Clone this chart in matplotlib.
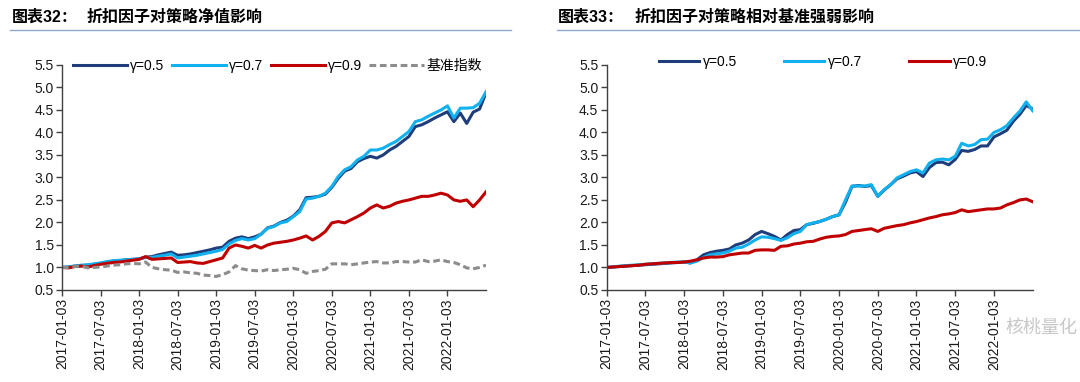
import matplotlib
matplotlib.use("Agg")
import matplotlib.pyplot as plt
import numpy as np

plt.rcParams['font.family'] = ['Liberation Sans', 'Noto Sans CJK SC', 'DejaVu Sans']

# monthly readings, 2017-01 .. 2022-07
tick_labels = ['2017-01-03', '2017-07-03', '2018-01-03', '2018-07-03', '2019-01-03',
               '2019-07-03', '2020-01-03', '2020-07-03', '2021-01-03', '2021-07-03',
               '2022-01-03']

# chart 32: net value
nav_g05 = [1.00, 1.01, 1.03, 1.04, 1.05, 1.07, 1.09, 1.12, 1.14, 1.15, 1.17, 1.18, 1.19, 1.23, 1.24, 1.28,
           1.31, 1.34, 1.27, 1.28, 1.30, 1.33, 1.36, 1.39, 1.43, 1.45, 1.58, 1.65, 1.68, 1.64, 1.68, 1.74,
           1.88, 1.92, 2.00, 2.05, 2.14, 2.28, 2.55, 2.56, 2.58, 2.63, 2.78, 2.98, 3.14, 3.20, 3.35, 3.42,
           3.47, 3.43, 3.50, 3.61, 3.69, 3.80, 3.91, 4.13, 4.17, 4.24, 4.32, 4.39, 4.46, 4.24, 4.43, 4.20,
           4.45, 4.52, 4.88]
nav_g07 = [1.00, 1.01, 1.03, 1.05, 1.06, 1.08, 1.10, 1.13, 1.15, 1.16, 1.17, 1.18, 1.19, 1.22, 1.22, 1.25,
           1.27, 1.30, 1.21, 1.23, 1.25, 1.27, 1.30, 1.33, 1.36, 1.40, 1.52, 1.60, 1.64, 1.61, 1.64, 1.74,
           1.87, 1.91, 1.99, 2.02, 2.13, 2.24, 2.52, 2.54, 2.58, 2.65, 2.80, 3.02, 3.17, 3.24, 3.39, 3.47,
           3.61, 3.61, 3.65, 3.73, 3.80, 3.91, 4.02, 4.24, 4.28, 4.36, 4.43, 4.50, 4.59, 4.32, 4.54, 4.54,
           4.55, 4.65, 4.90]
nav_g09 = [1.00, 0.99, 1.02, 1.03, 1.01, 1.04, 1.07, 1.09, 1.11, 1.12, 1.14, 1.16, 1.18, 1.24, 1.18, 1.19,
           1.20, 1.21, 1.11, 1.12, 1.13, 1.10, 1.09, 1.13, 1.17, 1.21, 1.43, 1.50, 1.47, 1.43, 1.49, 1.43,
           1.50, 1.54, 1.56, 1.58, 1.61, 1.65, 1.70, 1.61, 1.69, 1.80, 1.99, 2.02, 1.99, 2.06, 2.13, 2.21,
           2.32, 2.39, 2.32, 2.36, 2.43, 2.47, 2.50, 2.54, 2.58, 2.58, 2.61, 2.65, 2.61, 2.50, 2.47, 2.50,
           2.35, 2.50, 2.68]
bench = [1.00, 1.00, 1.02, 1.03, 0.99, 1.00, 1.01, 1.03, 1.05, 1.06, 1.08, 1.09, 1.08, 1.12, 1.00, 0.97,
         0.95, 0.94, 0.89, 0.90, 0.88, 0.87, 0.83, 0.82, 0.80, 0.84, 0.90, 1.04, 0.97, 0.94, 0.93, 0.92,
         0.95, 0.93, 0.95, 0.96, 0.98, 0.95, 0.87, 0.91, 0.93, 0.96, 1.08, 1.08, 1.08, 1.06, 1.08, 1.10,
         1.12, 1.13, 1.10, 1.10, 1.13, 1.13, 1.12, 1.12, 1.17, 1.13, 1.14, 1.17, 1.13, 1.11, 1.06, 0.99,
         0.97, 1.00, 1.05]

# chart 33: relative to benchmark
rel_g05 = [1.00, 1.01, 1.02, 1.03, 1.04, 1.05, 1.06, 1.07, 1.08, 1.09, 1.10, 1.11, 1.12, 1.10, 1.17, 1.28,
           1.33, 1.36, 1.38, 1.41, 1.50, 1.54, 1.61, 1.73, 1.80, 1.75, 1.69, 1.61, 1.73, 1.82, 1.84, 1.95,
           1.98, 2.02, 2.07, 2.13, 2.17, 2.45, 2.80, 2.82, 2.80, 2.82, 2.58, 2.72, 2.84, 2.97, 3.03, 3.10,
           3.13, 3.02, 3.22, 3.33, 3.34, 3.28, 3.40, 3.60, 3.58, 3.62, 3.70, 3.70, 3.90, 3.97, 4.05, 4.25,
           4.40, 4.60, 4.52]
rel_g07 = [1.00, 1.01, 1.03, 1.04, 1.05, 1.06, 1.07, 1.08, 1.09, 1.10, 1.11, 1.12, 1.12, 1.10, 1.14, 1.22,
           1.28, 1.30, 1.32, 1.36, 1.43, 1.45, 1.52, 1.61, 1.68, 1.67, 1.64, 1.60, 1.66, 1.75, 1.80, 1.95,
           1.99, 2.02, 2.07, 2.13, 2.17, 2.50, 2.81, 2.81, 2.81, 2.84, 2.58, 2.73, 2.84, 2.99, 3.06, 3.13,
           3.17, 3.10, 3.32, 3.39, 3.41, 3.39, 3.47, 3.76, 3.70, 3.73, 3.84, 3.85, 4.00, 4.06, 4.15, 4.32,
           4.47, 4.68, 4.48]
rel_g09 = [1.00, 1.01, 1.02, 1.03, 1.04, 1.05, 1.07, 1.08, 1.09, 1.10, 1.11, 1.11, 1.12, 1.14, 1.17, 1.21,
           1.23, 1.23, 1.24, 1.28, 1.30, 1.32, 1.32, 1.38, 1.39, 1.39, 1.38, 1.47, 1.48, 1.52, 1.54, 1.57,
           1.58, 1.63, 1.67, 1.69, 1.70, 1.73, 1.80, 1.82, 1.84, 1.86, 1.80, 1.87, 1.90, 1.93, 1.95, 1.99,
           2.02, 2.06, 2.10, 2.13, 2.17, 2.19, 2.22, 2.28, 2.24, 2.26, 2.28, 2.30, 2.30, 2.32, 2.39, 2.44,
           2.50, 2.52, 2.46]

c_dark = '#1F3D7A'
c_light = '#11B0EE'
c_red = '#C00000'
c_gray = '#8C8C8C'

fig = plt.figure(figsize=(10.8, 3.82), dpi=100)

def setup_axis(ax):
    ax.set_xlim(0, len(nav_g05) - 1)
    ax.set_ylim(0.5, 5.5)
    ax.set_yticks(np.arange(0.5, 5.51, 0.5))
    ax.set_yticklabels(['%.1f' % v for v in np.arange(0.5, 5.51, 0.5)])
    ax.set_xticks(np.arange(0, 61, 6))
    ax.set_xticklabels(tick_labels, rotation=90)
    for s in ['top', 'right']:
        ax.spines[s].set_visible(False)
    for s in ['left', 'bottom']:
        ax.spines[s].set_color('#404040')
        ax.spines[s].set_linewidth(1.0)
    ax.tick_params(direction='out', length=4, width=1, color='#404040',
                   labelsize=10, labelcolor='#1a1a1a', pad=2)

x = np.arange(len(nav_g05))

# left chart
ax1 = fig.add_axes([0.0574, 0.241, 0.3926, 0.589])
l1, = ax1.plot(x, nav_g05, color=c_dark, lw=2.2, label='γ=0.5')
l2, = ax1.plot(x, nav_g07, color=c_light, lw=2.2, label='γ=0.7')
l3, = ax1.plot(x, nav_g09, color=c_red, lw=2.2, label='γ=0.9')
l4, = ax1.plot(x, bench, color=c_gray, lw=2.2, ls=(0, (2.2, 1.2)), label='基准指数')
setup_axis(ax1)
fig.legend(handles=[l1, l2, l3, l4], loc='center left', bbox_to_anchor=(0.0676, 0.827),
           ncol=4, frameon=False, fontsize=10, handlelength=3.9, handletextpad=0.2,
           columnspacing=0.55, borderpad=0, borderaxespad=0)

# right chart
ax2 = fig.add_axes([0.5617, 0.241, 0.3945, 0.589])
r1, = ax2.plot(x, rel_g05, color=c_dark, lw=2.2, label='γ=0.5')
r2, = ax2.plot(x, rel_g07, color=c_light, lw=2.2, label='γ=0.7')
r3, = ax2.plot(x, rel_g09, color=c_red, lw=2.2, label='γ=0.9')
setup_axis(ax2)
fig.legend(handles=[r1, r2, r3], loc='center left', bbox_to_anchor=(0.610, 0.838),
           ncol=3, frameon=False, fontsize=10, handlelength=2.9, handletextpad=0.25,
           columnspacing=3.4, borderpad=0, borderaxespad=0)

# titles with rule underneath
fig.text(12 / 1080, 1 - 17 / 382, '图表32：', fontsize=11.5, fontweight='bold', va='center')
fig.text(87 / 1080, 1 - 17 / 382, '折扣因子对策略净值影响', fontsize=11.5, fontweight='bold', va='center')
fig.text(558 / 1080, 1 - 17 / 382, '图表33：', fontsize=11.5, fontweight='bold', va='center')
fig.text(635 / 1080, 1 - 17 / 382, '折扣因子对策略相对基准强弱影响', fontsize=11.5, fontweight='bold', va='center')
fig.add_artist(plt.Line2D([10 / 1080, 511 / 1080], [1 - 29.5 / 382] * 2, color='#8EA9D0', lw=1))
fig.add_artist(plt.Line2D([557 / 1080, 1.0], [1 - 29.5 / 382] * 2, color='#8EA9D0', lw=1))

# watermark, kept clear of the tick labels
fig.text(1041 / 1080, 1 - 328 / 382, '核桃量化', fontsize=13, color='#9a9a9a', alpha=0.55,
         ha='center', va='center')

fig.savefig('out.png', dpi=100)
